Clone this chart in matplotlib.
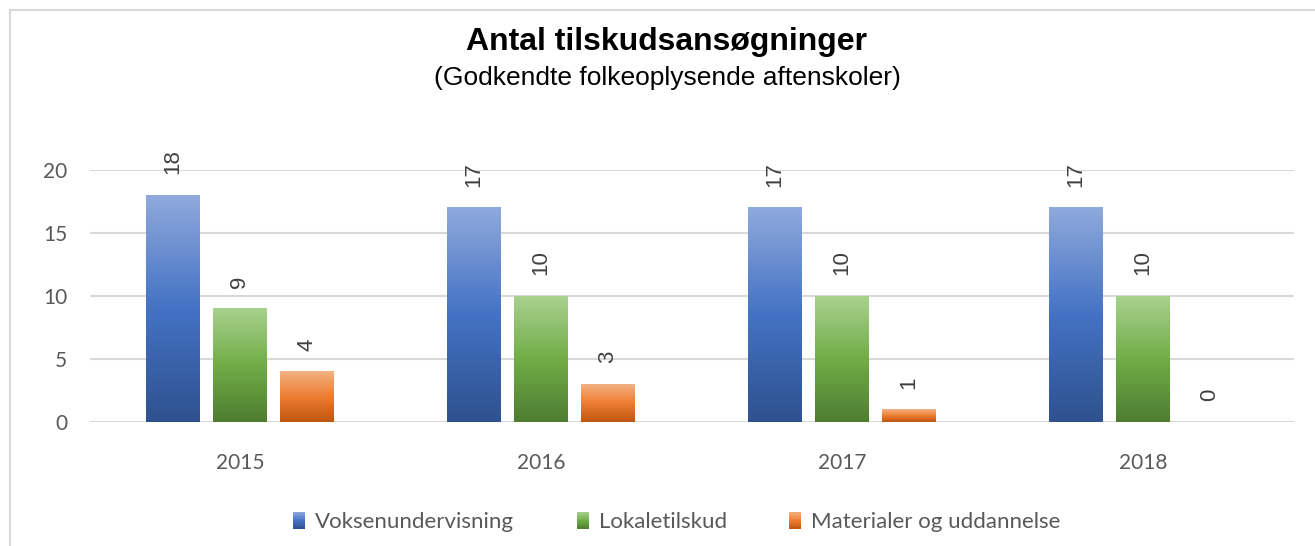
import matplotlib
matplotlib.use("Agg")
import matplotlib.pyplot as plt
import numpy as np
from matplotlib.colors import LinearSegmentedColormap
from matplotlib.patches import Rectangle
from matplotlib.legend_handler import HandlerPatch
from matplotlib.lines import Line2D

years = ["2015", "2016", "2017", "2018"]
series = ["Voksenundervisning", "Lokaletilskud", "Materialer og uddannelse"]
voksen = [18, 17, 17, 17]
lokale = [9, 10, 10, 10]
materialer = [4, 3, 1, 0]
values = [voksen, lokale, materialer]

# top / middle / bottom colours of each gradient
grads = [
    ["#8faadc", "#4472c4", "#2f528f"],
    ["#a9d18e", "#70ad47", "#4e7d30"],
    ["#f4b183", "#ed7d31", "#c0560f"],
]
cmaps = [LinearSegmentedColormap.from_list("g%d" % i, g[::-1]) for i, g in enumerate(grads)]

W, H = 1315, 546
fig = plt.figure(figsize=(W / 100, H / 100), dpi=100)
ax = fig.add_axes([89.5 / W, (H - 422) / H, 1204 / W, 252 / H])

grey = "#595959"
bar_w = 0.179
offsets = [-0.2226, 0.0, 0.2226]
grad_img = np.linspace(0, 1, 256).reshape(-1, 1)

x = np.arange(len(years))
for s, vals in enumerate(values):
    bars = ax.bar(x + offsets[s], vals, bar_w, color="none", edgecolor="none", zorder=3)
    for b, v in zip(bars, vals):
        x0 = b.get_x()
        if v > 0:
            ax.imshow(grad_img, cmap=cmaps[s], origin="lower", aspect="auto",
                      extent=[x0, x0 + b.get_width(), 0, v], zorder=3)
        ax.annotate(str(v), (x0 + b.get_width() / 2, v), xytext=(0, 15),
                    textcoords="offset points", rotation=90, ha="center", va="bottom",
                    fontsize=16, color="#404040", family="Liberation Sans",
                    annotation_clip=False)

ax.set_xlim(-0.5, 3.5)
ax.set_ylim(0, 20)
ax.set_yticks([0, 5, 10, 15, 20])
ax.set_xticks(x)
ax.set_xticklabels(years)
ax.grid(axis="y", color="#d9d9d9", linewidth=1.5, zorder=0)
ax.set_axisbelow(True)
for sp in ax.spines.values():
    sp.set_visible(False)
ax.tick_params(length=0, labelsize=15, labelcolor=grey)
ax.tick_params(axis="x", pad=22)
ax.tick_params(axis="y", pad=16)
for lab in ax.get_xticklabels() + ax.get_yticklabels():
    lab.set_family("Lato")


class GradHandler(HandlerPatch):
    def __init__(self, cmap):
        super().__init__()
        self.cmap = cmap

    def create_artists(self, legend, orig_handle, xdescent, ydescent, width, height, fontsize, trans):
        n = 12
        arts = []
        for i in range(n):
            r = Rectangle((-xdescent, -ydescent + height * i / n), width, height / n + 0.2,
                          facecolor=self.cmap((i + 0.5) / n), edgecolor="none", transform=trans)
            arts.append(r)
        return arts


cx = 667 / W
handles = [Rectangle((0, 0), 1, 1) for _ in series]
leg = fig.legend(handles, series, loc="center", bbox_to_anchor=(cx + 10 / W, (H - 522) / H),
                 ncol=3, frameon=False, prop={"family": "Lato", "size": 16},
                 handlelength=0.55, handleheight=0.8, handletextpad=0.45, columnspacing=2.8,
                 handler_map={h: GradHandler(c) for h, c in zip(handles, cmaps)})
for t in leg.get_texts():
    t.set_color(grey)

fig.text(cx, (H - 42) / H, "Antal tilskudsansøgninger", ha="center", va="center",
         fontsize=23, fontweight="bold", family="Liberation Sans", color="black")
fig.text(cx, (H - 78) / H, "(Godkendte folkeoplysende aftenskoler)", ha="center", va="center",
         fontsize=19, family="Liberation Sans", color="black")

# chart frame (top and left edges visible)
fig.add_artist(Line2D([10 / W, 1], [(H - 10) / H, (H - 10) / H], color="#d9d9d9", linewidth=1.5))
fig.add_artist(Line2D([10 / W, 10 / W], [0, (H - 10) / H], color="#d9d9d9", linewidth=1.5))

fig.savefig("out.png", dpi=100)
